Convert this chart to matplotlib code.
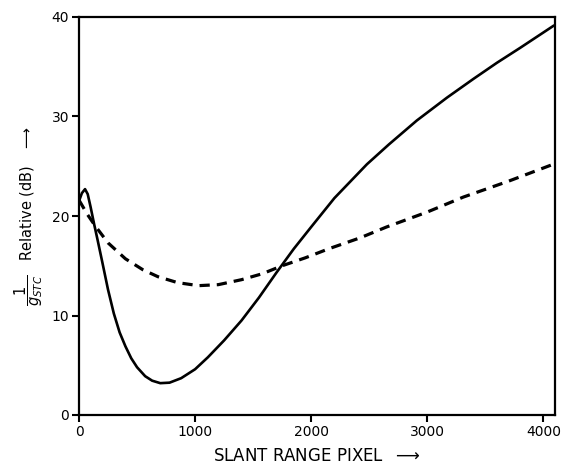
import matplotlib
matplotlib.use("Agg")
import matplotlib.pyplot as plt

# Solid curve
solid_x = [0, 25, 52, 75, 100, 130, 160, 200, 250, 300, 350, 400, 450, 500, 570, 630, 700, 780,
           880, 1000, 1110, 1250, 1400, 1550, 1700, 1850, 2000, 2200, 2480, 2670, 2910, 3170,
           3400, 3600, 3800, 4085]
solid_y = [21.5, 22.3, 22.7, 22.2, 20.9, 19.2, 17.6, 15.4, 12.6, 10.2, 8.3, 6.9, 5.7, 4.8, 3.9,
           3.45, 3.2, 3.25, 3.7, 4.6, 5.8, 7.5, 9.5, 11.8, 14.3, 16.7, 18.9, 21.8, 25.2, 27.2,
           29.6, 31.9, 33.8, 35.4, 36.9, 39.1]

# Dashed curve
dash_x = [0, 70, 140, 250, 400, 550, 680, 850, 1030, 1200, 1400, 1580, 1750, 1950, 2150, 2420,
          2650, 3000, 3310, 3700, 4085]
dash_y = [21.6, 20.2, 19.0, 17.3, 15.7, 14.6, 13.9, 13.3, 13.0, 13.1, 13.6, 14.2, 15.0, 15.8,
          16.7, 17.8, 18.9, 20.4, 21.9, 23.5, 25.2]

x_ticks = [0, 1000, 2000, 3000, 4000]
y_ticks = [0, 10, 20, 30, 40]

fig = plt.figure(figsize=(5.61, 4.71), dpi=100)
ax = fig.add_axes([79/561, 1-415/471, (555-79)/561, (415-17)/471])

ax.plot(solid_x, solid_y, color="black", lw=1.9, solid_joinstyle="round")
ax.plot(dash_x, dash_y, color="black", lw=2.3, dashes=(3.2, 2.2))

ax.set_xlim(0, 4100)
ax.set_ylim(0, 40)
ax.set_xticks(x_ticks)
ax.set_yticks(y_ticks)
ax.tick_params(axis="both", direction="out", length=5, width=1.5, labelsize=10, pad=2)
for s in ax.spines.values():
    s.set_linewidth(1.6)

ax.set_xlabel(r"SLANT RANGE PIXEL  $\longrightarrow$", fontsize=12, labelpad=6)
ax.set_ylabel(r"$\dfrac{1}{g_{STC}}$   Relative (dB)   $\longrightarrow$", fontsize=10.5, labelpad=5)

fig.savefig("out.png", dpi=100)
